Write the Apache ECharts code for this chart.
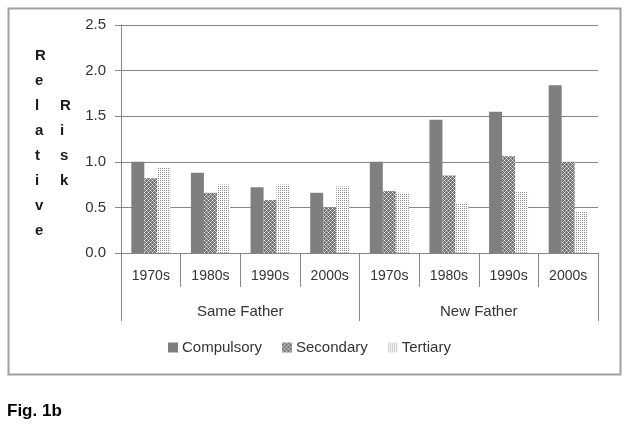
<!DOCTYPE html>
<html>
<head>
<meta charset="utf-8">
<script src="https://cdn.jsdelivr.net/npm/echarts@6/dist/echarts.min.js"></script>
<style>html,body{margin:0;padding:0;background:#fff}#c{width:624px;height:429px}</style>
</head>
<body>
<div id="c"></div>
<script>
var decades = ['1970s','1980s','1990s','2000s','1970s','1980s','1990s','2000s'];
var groups = ['Same Father','New Father'];
var seriesNames = ['Compulsory','Secondary','Tertiary'];
var compulsory = [1.00, 0.88, 0.72, 0.66, 1.00, 1.46, 1.55, 1.84];
var secondary  = [0.82, 0.66, 0.58, 0.50, 0.68, 0.85, 1.06, 1.00];
var tertiary   = [0.94, 0.75, 0.75, 0.73, 0.66, 0.55, 0.68, 0.45];
var yTicks = [0, 0.5, 1.0, 1.5, 2.0, 2.5];

function makePattern(size, bg, pts) {
  var cv = document.createElement('canvas');
  cv.width = size; cv.height = size;
  var ctx = cv.getContext('2d');
  ctx.fillStyle = bg; ctx.fillRect(0, 0, size, size);
  pts.forEach(function (p) { ctx.fillStyle = p[2]; ctx.fillRect(p[0], p[1], 1, 1); });
  return cv;
}
var crossCanvas = makePattern(4, '#727272', [[0,0,'#f0f0f0'],[2,2,'#f0f0f0'],[1,1,'#bdbdbd'],[3,3,'#bdbdbd'],[3,1,'#bdbdbd'],[1,3,'#bdbdbd']]);
var dotCanvas = makePattern(2, '#ffffff', [[0,0,'#8e8e8e']]);

var chart = echarts.init(document.getElementById('c'), null, {renderer: 'canvas'});
var txt = '#333333';
var lineCol = '#868686';
var font = 'Liberation Sans';

chart.setOption({
  animation: false,
  backgroundColor: '#fff',
  textStyle: {fontFamily: font},
  grid: {left: 121, right: 26, top: 25, bottom: 176, containLabel: false},
  legend: {
    data: seriesNames,
    left: 168, top: 340, padding: 0,
    itemWidth: 10, itemHeight: 10, itemGap: 20,
    icon: 'rect',
    textStyle: {fontSize: 15, color: txt, fontFamily: font, padding: [0, 0, 0, -1]}
  },
  xAxis: [{
    type: 'category', data: decades, position: 'bottom',
    axisLine: {show: true, lineStyle: {color: lineCol, width: 1}},
    axisTick: {show: true, length: 34, lineStyle: {color: lineCol}},
    axisLabel: {fontSize: 14, color: txt, margin: 16, fontFamily: font, interval: 0}
  }, {
    type: 'category', data: groups, position: 'bottom',
    axisLine: {show: false},
    axisTick: {show: true, length: 68, lineStyle: {color: lineCol}},
    axisLabel: {fontSize: 15, color: txt, margin: 51, fontFamily: font, interval: 0}
  }],
  yAxis: {
    type: 'value', min: 0, max: 2.5, interval: 0.5,
    axisLine: {show: true, lineStyle: {color: lineCol}},
    axisTick: {show: true, length: 6, lineStyle: {color: lineCol}},
    splitLine: {show: true, lineStyle: {color: lineCol, width: 1}},
    axisLabel: {fontSize: 15, color: txt, margin: 15, fontFamily: font,
      formatter: function (v) { return v.toFixed(1); }}
  },
  series: [{
    name: seriesNames[0], type: 'bar', xAxisIndex: 0, data: compulsory,
    barWidth: 13, barGap: '0%',
    itemStyle: {color: '#7f7f7f'}
  }, {
    name: seriesNames[1], type: 'bar', xAxisIndex: 0, data: secondary,
    barWidth: 13, barGap: '0%',
    itemStyle: {color: {image: crossCanvas, repeat: 'repeat'}}
  }, {
    name: seriesNames[2], type: 'bar', xAxisIndex: 0, data: tertiary,
    barWidth: 13, barGap: '0%',
    itemStyle: {color: {image: dotCanvas, repeat: 'repeat'}}
  }],
  graphic: [{
    type: 'rect', left: 6, top: 6, z: -1,
    shape: {x: 0, y: 0, width: 612, height: 366},
    style: {fill: 'none', stroke: '#a0a0a0', lineWidth: 2}
  }, {
    type: 'text', left: 35, top: 43,
    style: {text: 'R\ne\nl\na\nt\ni\nv\ne', font: 'bold 15px "Liberation Sans"', fill: '#1a1a1a', lineHeight: 25, align: 'center'}
  }, {
    type: 'text', left: 60, top: 93,
    style: {text: 'R\ni\ns\nk', font: 'bold 15px "Liberation Sans"', fill: '#1a1a1a', lineHeight: 25, align: 'center'}
  }, {
    type: 'text', left: 7, top: 403,
    style: {text: 'Fig. 1b', font: 'bold 17px "Liberation Sans"', fill: '#000'}
  }]
});
</script>
</body>
</html>
